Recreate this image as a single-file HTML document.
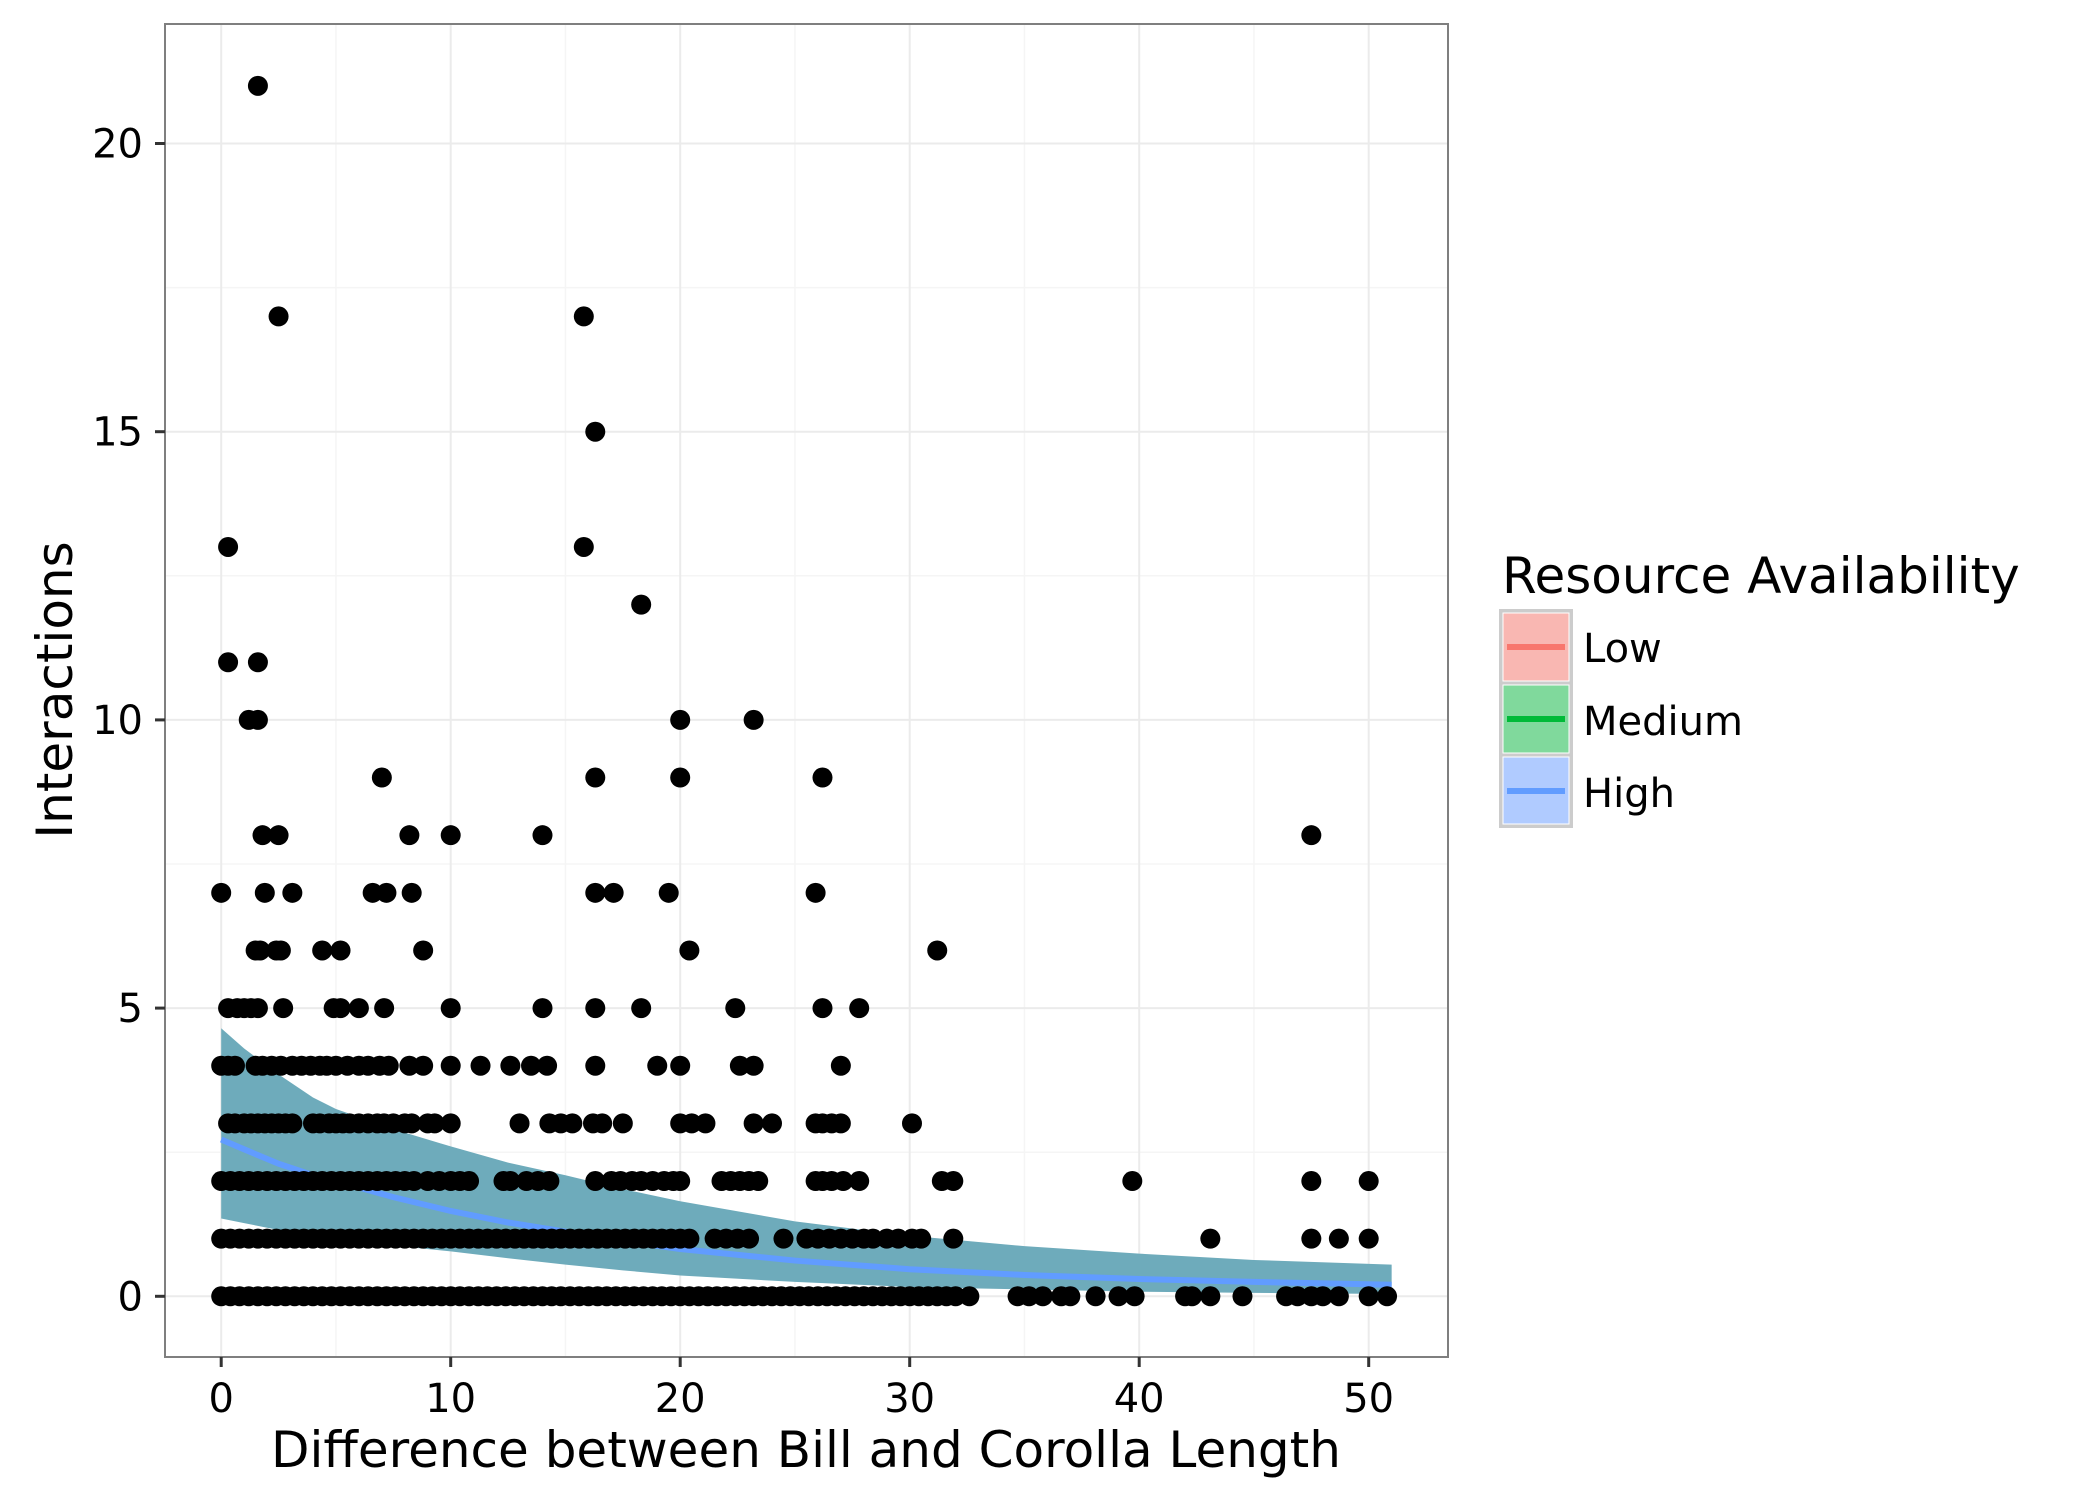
<!DOCTYPE html>
<html><head><meta charset="utf-8"><style>
html,body{margin:0;padding:0;background:#fff;}
svg{display:block;font-family:"DejaVu Sans","Liberation Sans",sans-serif;}
</style></head><body>
<svg id="chart" width="2100" height="1500" viewBox="0 0 2100 1500">
<rect x="0" y="0" width="2100" height="1500" fill="#fff"/>
<g id="grid"></g>
<g id="ribbons"></g>
<g id="lines"></g>
<g id="points"></g>
<rect x="165" y="24" width="1283" height="1333" fill="none" stroke="#7f7f7f" stroke-width="2"/>
<g id="axes"></g>
<text x="806" y="1467" font-size="50" text-anchor="middle" fill="#000">Difference between Bill and Corolla Length</text>
<text transform="translate(72,690) rotate(-90)" font-size="50" text-anchor="middle" fill="#000">Interactions</text>
<g id="legend">
<text x="1502" y="593" font-size="50" fill="#000">Resource Availability</text>
<rect x="1499" y="609" width="74" height="219" fill="#cccccc"/>
<g>
<rect x="1503" y="613" width="66" height="68" fill="#f9b7b2" stroke="#fff" stroke-width="1"/>
<line x1="1507" x2="1565" y1="647" y2="647" stroke="#F8766D" stroke-width="6"/>
<text x="1583" y="662" font-size="40" fill="#000">Low</text></g>
<g>
<rect x="1503" y="685" width="66" height="68" fill="#80d99c" stroke="#fff" stroke-width="1"/>
<line x1="1507" x2="1565" y1="719" y2="719" stroke="#00BA38" stroke-width="6"/>
<text x="1583" y="735" font-size="40" fill="#000">Medium</text></g>
<g>
<rect x="1503" y="757" width="66" height="67" fill="#b0cbff" stroke="#fff" stroke-width="1"/>
<line x1="1507" x2="1565" y1="791" y2="791" stroke="#619CFF" stroke-width="6"/>
<text x="1583" y="807" font-size="40" fill="#000">High</text></g>
</g>
</svg>
<script>
const xTicks=[0,10,20,30,40,50];
const yTicks=[0,5,10,15,20];
const fitX=[0,1,2.5,4,5,7.5,10,12.5,15,17.5,20,25,30,35,40,45,51];
const fitUpper=[4.65,4.3,3.85,3.45,3.25,2.9,2.6,2.32,2.1,1.86,1.65,1.3,1.05,0.87,0.74,0.63,0.55];
const fitLower=[1.35,1.27,1.15,1.05,1.0,0.88,0.78,0.66,0.55,0.45,0.36,0.25,0.16,0.12,0.08,0.06,0.04];
const fitLine=[2.72,2.55,2.3,2.1,2.0,1.72,1.48,1.28,1.12,0.96,0.82,0.62,0.47,0.37,0.3,0.25,0.2];
const row21=[1.6];
const row17=[2.5,15.8];
const row15=[16.3];
const row13=[0.3,15.8];
const row12=[18.3];
const row11=[0.3,1.6];
const row10=[1.2,1.6,20,23.2];
const row9=[7,16.3,20,26.2];
const row8=[1.8,2.5,8.2,10,14,47.5];
const row7=[0,1.9,3.1,6.6,7.2,8.3,16.3,17.1,19.5,25.9];
const row6=[1.5,1.7,2.4,2.6,4.4,5.2,8.8,20.4,31.2];
const row5=[0.3,0.7,1.0,1.3,1.6,2.7,4.9,5.2,6.0,7.1,10,14,16.3,18.3,22.4,26.2,27.8];
const row4=[0,0.3,0.6,1.5,1.8,2.2,2.6,3.1,3.5,3.9,4.3,4.6,5.0,5.5,6.0,6.4,6.9,7.3,8.2,8.8,10,11.3,12.6,13.5,14.2,16.3,19,20,22.6,23.2,27];
const row3=[0.3,0.6,1.0,1.3,1.6,1.9,2.2,2.5,2.8,3.1,4.0,4.3,4.7,5.0,5.3,5.6,6.0,6.4,6.8,7.1,7.5,8.0,8.3,9.0,9.3,10,13,14.3,14.8,15.3,16.2,16.6,17.5,20,20.5,21.1,23.2,24,25.9,26.2,26.6,27,30.1];
const row2=[0,0.4,0.8,1.2,1.6,2.0,2.4,2.8,3.2,3.6,4.0,4.4,4.8,5.2,5.6,6.0,6.4,6.8,7.2,7.6,8.0,8.4,9.0,9.5,10,10.4,10.8,12.3,12.6,13.3,13.8,14.3,16.3,17,17.4,17.9,18.3,18.8,19.3,19.7,20,21.8,22.2,22.6,23,23.4,25.9,26.2,26.6,27.1,27.8,31.4,31.9,39.7,47.5,50];
const row1=[0,0.4,0.8,1.2,1.6,2.0,2.4,2.8,3.2,3.6,4.0,4.4,4.8,5.2,5.6,6.0,6.4,6.8,7.2,7.6,8.0,8.4,8.8,9.2,9.6,10,10.4,10.8,11.2,11.6,12.0,12.4,12.8,13.2,13.6,14.0,14.4,14.8,15.2,15.6,16.0,16.4,16.8,17.2,17.6,18.0,18.4,18.8,19.2,19.6,20,20.4,21.5,22,22.5,23,24.5,25.5,26,26.5,27,27.5,28,28.4,29,29.5,30.1,30.5,31.9,43.1,47.5,48.7,50];
const row0=[0,0.4,0.8,1.2,1.6,2.0,2.4,2.8,3.2,3.6,4.0,4.4,4.8,5.2,5.6,6.0,6.4,6.8,7.2,7.6,8.0,8.4,8.8,9.2,9.6,10,10.4,10.8,11.2,11.6,12.0,12.4,12.8,13.2,13.6,14.0,14.4,14.8,15.2,15.6,16.0,16.4,16.8,17.2,17.6,18.0,18.4,18.8,19.2,19.6,20,20.4,20.8,21.2,21.6,22.0,22.4,22.8,23.2,23.6,24.0,24.4,24.8,25.2,25.6,26.0,26.4,26.8,27.2,27.6,28.0,28.4,28.8,29.2,29.6,30.0,30.4,30.8,31.2,31.6,32.0,32.6,34.7,35.2,35.8,36.6,37,38.1,39.1,39.8,42,42.3,43.1,44.5,46.4,46.9,47.5,48,48.7,50,50.8];
const rowValues=[0,1,2,3,4,5,6,7,8,9,10,11,12,13,15,17,21];
const rowPoints=[row0,row1,row2,row3,row4,row5,row6,row7,row8,row9,row10,row11,row12,row13,row15,row17,row21];

const NS="http://www.w3.org/2000/svg";
const X0=221.2, XU=22.95, Y0=1296.3, YU=57.64;
const PL=165, PR=1448, PT=24, PB=1357;
function sx(v){return X0+v*XU;}
function sy(v){return Y0-v*YU;}
function mk(tag,attrs,parent){const e=document.createElementNS(NS,tag);for(const k in attrs)e.setAttribute(k,attrs[k]);parent.appendChild(e);return e;}

const grid=document.getElementById('grid');
[5,15,25,35,45].forEach(v=>{
  const l=mk('line',{x1:sx(v),x2:sx(v),y1:PT,y2:PB,stroke:'#f5f5f5','stroke-width':1.5},grid);
  
  
});
[2.5,7.5,12.5,17.5].forEach(v=>{
  const l=mk('line',{x1:PL,x2:PR,y1:sy(v),y2:sy(v),stroke:'#f5f5f5','stroke-width':1.5},grid);
  
  
});
xTicks.forEach(v=>{const l=mk('line',{x1:sx(v),x2:sx(v),y1:PT,y2:PB,stroke:'#ebebeb','stroke-width':2},grid);
  
  });
yTicks.forEach(v=>{const l=mk('line',{x1:PL,x2:PR,y1:sy(v),y2:sy(v),stroke:'#ebebeb','stroke-width':2},grid);
  
  });

const rib=document.getElementById('ribbons');
let d='M'+fitX.map((x,i)=>sx(x)+','+sy(fitUpper[i])).join(' L');
for(let i=fitX.length-1;i>=0;i--) d+=' L'+sx(fitX[i])+','+sy(fitLower[i]);
d+='Z';
const rp=mk('path',{d:d,fill:'#6eabbb'},rib);



const ln=document.getElementById('lines');
const lp=mk('path',{d:'M'+fitX.map((x,i)=>sx(x)+','+sy(fitLine[i])).join(' L'),fill:'none',stroke:'#619CFF','stroke-width':6},ln);



const pts=document.getElementById('points');
rowPoints.forEach((arr,ri)=>{arr.forEach(x=>{
  const c=mk('circle',{cx:sx(x),cy:sy(rowValues[ri]),r:10,fill:'#000'},pts);
  
  
});});

const ax=document.getElementById('axes');
xTicks.forEach(v=>{
  const t=mk('line',{x1:sx(v),x2:sx(v),y1:PB,y2:PB+10,stroke:'#333','stroke-width':3},ax);
  
  
  const tx=mk('text',{x:sx(v),y:PB+55,'font-size':40,'text-anchor':'middle',fill:'#000'},ax);
  tx.textContent=v;
  
  
});
yTicks.forEach(v=>{
  const t=mk('line',{x1:PL-10,x2:PL,y1:sy(v),y2:sy(v),stroke:'#333','stroke-width':3},ax);
  
  
  const tx=mk('text',{x:PL-22,y:sy(v)+14,'font-size':40,'text-anchor':'end',fill:'#000'},ax);
  tx.textContent=v;
  
  
});
</script>
</body></html>
